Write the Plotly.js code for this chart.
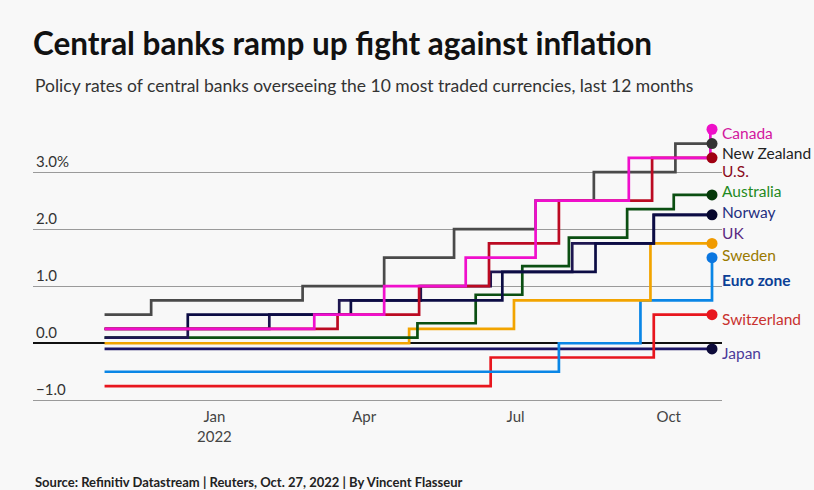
<!DOCTYPE html>
<html>
<head>
<meta charset="utf-8">
<script src="https://cdn.plot.ly/plotly-3.0.1.min.js"></script>
<style>html,body{margin:0;padding:0;background:#f8f8f8;}#chart{width:814px;height:490px;}</style>
</head>
<body>
<div id="chart"></div>
<script>
// ---- data: policy rate step dates and values (%) ----
const canadaDates = ["2021-10-27","2022-03-02","2022-04-13","2022-06-01","2022-07-13","2022-09-07","2022-10-26","2022-10-27"];
const canadaRates = [0.25,0.5,1.0,1.5,2.5,3.25,3.75,3.75];

const nzDates = ["2021-10-27","2021-11-24","2022-02-23","2022-04-13","2022-05-25","2022-07-13","2022-08-17","2022-10-05","2022-10-27"];
const nzRates = [0.5,0.75,1.0,1.5,2.0,2.5,3.0,3.5,3.5];

const usDates = ["2021-10-27","2022-03-16","2022-05-04","2022-06-15","2022-07-27","2022-09-21","2022-10-27"];
const usRates = [0.25,0.5,1.0,1.75,2.5,3.25,3.25];

const ausDates = ["2021-10-27","2022-05-03","2022-06-07","2022-07-05","2022-08-02","2022-09-06","2022-10-04","2022-10-27"];
const ausRates = [0.1,0.35,0.85,1.35,1.85,2.35,2.6,2.6];

const norwayDates = ["2021-10-27","2021-12-16","2022-03-24","2022-06-23","2022-08-18","2022-09-22","2022-10-27"];
const norwayRates = [0.25,0.5,0.75,1.25,1.75,2.25,2.25];

const ukDates = ["2021-10-27","2021-12-16","2022-02-03","2022-03-17","2022-05-05","2022-06-16","2022-08-04","2022-09-22","2022-10-27"];
const ukRates = [0.1,0.25,0.5,0.75,1.0,1.25,1.75,2.25,2.25];

const swedenDates = ["2021-10-27","2022-04-28","2022-06-30","2022-09-20","2022-10-27"];
const swedenRates = [0.0,0.25,0.75,1.75,1.75];

const euroDates = ["2021-10-27","2022-07-27","2022-09-14","2022-10-27"];
const euroRates = [-0.5,0.0,0.75,1.5];

const swissDates = ["2021-10-27","2022-06-16","2022-09-22","2022-10-27"];
const swissRates = [-0.75,-0.25,0.5,0.5];

const japanDates = ["2021-10-27","2022-10-27"];
const japanRates = [-0.1,-0.1];

const yTickVals = [-1,0,1,2,3];
const yTickText = ["\u22121.0","0.0","1.0","2.0","3.0%"];
const xTickVals = ["2022-01-01","2022-04-01","2022-07-01","2022-10-01"];
const xTickText = ["Jan<br>2022","Apr","Jul","Oct"];

// ---- series styling ----
const series = [
  {name:"Japan", x:japanDates, y:japanRates, line:"#1c1566", dot:"#0d0b3a", label:"Japan", lc:"#4b3b9a", ly:-0.17, bold:false},
  {name:"Switzerland", x:swissDates, y:swissRates, line:"#e8161e", dot:"#e8161e", label:"Switzerland", lc:"#c8322f", ly:0.42, bold:false},
  {name:"Euro zone", x:euroDates, y:euroRates, line:"#0a86e6", dot:"#0a76e0", label:"Euro zone", lc:"#0b3f96", ly:1.11, bold:true},
  {name:"Sweden", x:swedenDates, y:swedenRates, line:"#f2a400", dot:"#f09a00", label:"Sweden", lc:"#9a7a00", ly:1.54, bold:false},
  {name:"Australia", x:ausDates, y:ausRates, line:"#0b4f12", dot:"#063a0a", label:"Australia", lc:"#1f8a22", ly:2.66, bold:false},
  {name:"UK", x:ukDates, y:ukRates, line:"#1e1650", dot:null, label:"UK", lc:"#5b2a82", ly:1.94, bold:false},
  {name:"Norway", x:norwayDates, y:norwayRates, line:"#0c0c44", dot:"#07072e", label:"Norway", lc:"#1f2f80", ly:2.30, bold:false},
  {name:"New Zealand", x:nzDates, y:nzRates, line:"#4a4a4a", dot:"#333333", label:"New Zealand", lc:"#222222", ly:3.33, bold:false},
  {name:"U.S.", x:usDates, y:usRates, line:"#bb0a22", dot:"#a00012", label:"U.S.", lc:"#8b0b1c", ly:3.01, bold:false},
  {name:"Canada", x:canadaDates, y:canadaRates, line:"#f00fcc", dot:"#ee10c8", label:"Canada", lc:"#d2169e", ly:3.68, bold:false}
];

const traces = [];
series.forEach(s => {
  traces.push({type:"scatter", mode:"lines", x:s.x, y:s.y, line:{shape:"hv", color:s.line, width:2.7}, hoverinfo:"skip", showlegend:false, cliponaxis:false});
});
series.forEach(s => {
  if (!s.dot) return;
  const n = s.x.length - 1;
  traces.push({type:"scatter", mode:"markers", x:[s.x[n]], y:[s.y[n]], marker:{size:11, color:s.dot}, hoverinfo:"skip", showlegend:false, cliponaxis:false});
});

const FONT = "Lato, 'Open Sans', sans-serif";
const annotations = series.map(s => ({
  xref:"paper", x:1, xanchor:"left", xshift:-2, yref:"y", y:s.ly, yanchor:"middle",
  text: s.bold ? "<b>"+s.label+"</b>" : s.label, showarrow:false,
  font:{family:FONT, size:15.5, color:s.lc}
}));
annotations.push({xref:"paper", x:0, xanchor:"left", yref:"paper", y:1.10, yanchor:"middle",
  text:"Policy rates of central banks overseeing the 10 most traded currencies, last 12 months",
  showarrow:false, font:{family:FONT, size:17.5, color:"#333"}});
annotations.push({xref:"paper", x:0, xanchor:"left", yref:"paper", y:-0.262, yanchor:"middle",
  text:"<b>Source: Refinitiv Datastream | Reuters, Oct. 27, 2022 | By Vincent Flasseur</b>",
  showarrow:false, font:{family:FONT, size:13, color:"#222"}});

const layout = {
  width:814, height:490,
  paper_bgcolor:"#f8f8f8", plot_bgcolor:"#f8f8f8",
  margin:{l:33, r:92, t:115, b:84},
  title:{text:"<b>Central banks ramp up fight against inflation</b>", xref:"container", x:33/814, xanchor:"left",
    yref:"container", y:1-44/490, yanchor:"middle", font:{family:FONT, size:31.5, color:"#111"}},
  xaxis:{type:"date", range:["2021-09-14","2022-11-02"], tickvals:xTickVals, ticktext:xTickText,
    showgrid:false, zeroline:false, showline:false, ticks:"", tickfont:{family:FONT, size:15, color:"#444"}},
  yaxis:{range:[-1.1,4.0], tickvals:yTickVals, ticktext:yTickText, ticklabelposition:"inside top",
    showgrid:true, gridcolor:"#9a9a9a", gridwidth:1, zeroline:true, zerolinecolor:"#111", zerolinewidth:1.6,
    showline:false, ticks:"", tickfont:{family:FONT, size:15, color:"#333"}},
  annotations:annotations,
  showlegend:false
};

Plotly.newPlot("chart", traces, layout, {staticPlot:true, displayModeBar:false});
</script>
</body>
</html>
